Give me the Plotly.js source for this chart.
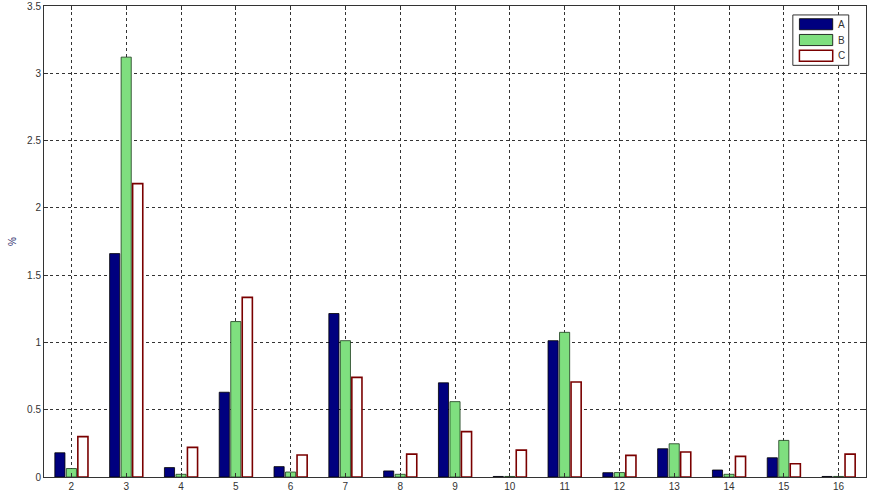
<!DOCTYPE html>
<html>
<head>
<meta charset="utf-8">
<script src="https://cdn.plot.ly/plotly-3.0.1.min.js"></script>
<style>html,body{margin:0;padding:0;background:#fff;}#chart{width:872px;height:493px;}</style>
</head>
<body>
<div id="chart"></div>
<script>
const categories = [2, 3, 4, 5, 6, 7, 8, 9, 10, 11, 12, 13, 14, 15, 16];
const seriesA = [0.18, 1.66, 0.07, 0.63, 0.077, 1.215, 0.045, 0.70, 0.004, 1.013, 0.032, 0.21, 0.052, 0.143, 0.004];
const seriesB = [0.063, 3.12, 0.02, 1.155, 0.037, 1.013, 0.02, 0.56, 0.004, 1.075, 0.033, 0.247, 0.02, 0.272, 0.004];
const seriesC = [0.30, 2.18, 0.22, 1.335, 0.163, 0.74, 0.17, 0.337, 0.20, 0.706, 0.161, 0.186, 0.153, 0.099, 0.17];
const seriesNames = ['A', 'B', 'C'];
const yTicks = [0, 0.5, 1, 1.5, 2, 2.5, 3, 3.5];
const yTickText = ['0', '0.5', '1', '1.5', '2', '2.5', '3', '3.5'];

const fills = ['#00007f', '#7fdf7f', '#ffffff'];
const edges = ['#000000', '#1a3a1a', '#7a0000'];
const edgeW = [0.8, 0.8, 1.6];
const data = [seriesA, seriesB, seriesC].map((v, i) => ({
  type: 'bar', x: categories, y: v, name: seriesNames[i],
  marker: {color: fills[i], line: {color: edges[i], width: edgeW[i]}},
  showlegend: false, hoverinfo: 'x+y'
}));

// custom legend (MATLAB-style wide swatches), paper coordinates of the plot area
const shapes = [];
const annotations = [];
shapes.push({type: 'rect', xref: 'paper', yref: 'paper', x0: 0.911, x1: 0.979, y0: 0.874, y1: 0.981,
  line: {color: '#333', width: 1}, fillcolor: '#fff', layer: 'above'});
const rowY = [0.9613, 0.9278, 0.8943];
for (let i = 0; i < 3; i++) {
  shapes.push({type: 'rect', xref: 'paper', yref: 'paper', x0: 0.919, x1: 0.9595,
    y0: rowY[i] - 0.0118, y1: rowY[i] + 0.0118,
    line: {color: i === 2 ? edges[2] : '#000', width: i === 2 ? 1.5 : 0.8}, fillcolor: fills[i], layer: 'above'});
  annotations.push({xref: 'paper', yref: 'paper', x: 0.9635, y: rowY[i], xanchor: 'left', yanchor: 'middle',
    text: seriesNames[i], showarrow: false, font: {family: 'Liberation Sans, Arial, sans-serif', size: 10, color: '#333'}});
}

const layout = {
  width: 872, height: 493,
  margin: {l: 44, r: 6, t: 6, b: 16},
  paper_bgcolor: '#fff', plot_bgcolor: '#fff',
  barmode: 'group', bargap: 0.37, bargroupgap: 0.12,
  font: {family: 'Liberation Sans, Arial, sans-serif', size: 10, color: '#333'},
  xaxis: {
    range: [1.5, 16.5], tickmode: 'array', tickvals: categories, ticktext: categories.map(String),
    showgrid: true, gridcolor: '#333', griddash: 'dot', gridwidth: 1,
    showline: true, linecolor: '#333', linewidth: 1, mirror: 'ticks',
    ticks: 'inside', ticklen: 4, tickcolor: '#333', zeroline: false,
    tickfont: {size: 10, color: '#333'}
  },
  yaxis: {
    range: [0, 3.5], tickmode: 'array', tickvals: yTicks, ticktext: yTickText,
    showgrid: true, gridcolor: '#333', griddash: 'dot', gridwidth: 1,
    showline: true, linecolor: '#333', linewidth: 1, mirror: 'ticks',
    ticks: 'inside', ticklen: 4, tickcolor: '#333', zeroline: false,
    tickfont: {size: 10, color: '#333'},
    title: {text: '%', font: {size: 10, color: '#2a2a6a'}, standoff: 8}
  },
  shapes: shapes, annotations: annotations, showlegend: false
};
Plotly.newPlot('chart', data, layout, {displayModeBar: false, staticPlot: true});
</script>
</body>
</html>
